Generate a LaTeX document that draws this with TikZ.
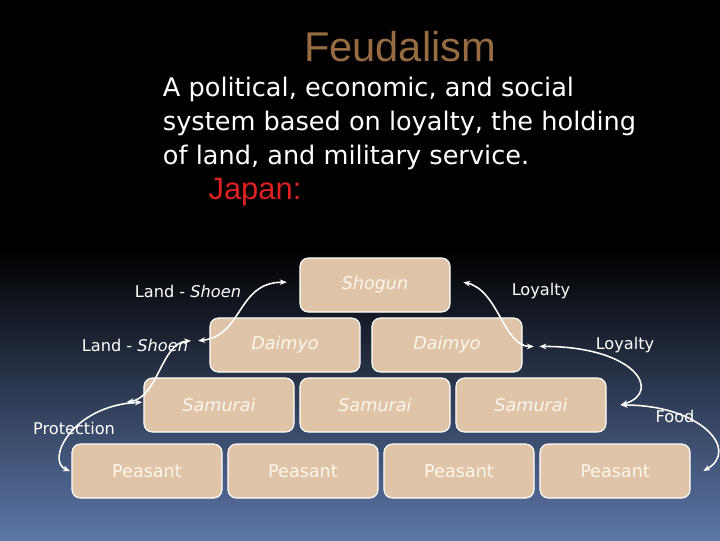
\documentclass[tikz,border=0pt]{standalone}
\usepackage{fontspec}
\setmainfont{DejaVu Sans}
\newfontfamily\arialfont{Liberation Sans}
\usetikzlibrary{arrows.meta,positioning}
\definecolor{boxtan}{RGB}{224,196,168}
\definecolor{cream}{RGB}{253,246,236}
\definecolor{feudbrown}{RGB}{152,108,66}
\definecolor{japanred}{RGB}{222,32,32}
\definecolor{bgmid}{RGB}{26,34,54}
\definecolor{bgblue}{RGB}{92,118,168}

\begin{document}
\begin{tikzpicture}[
    x=0.025cm, y=-0.025cm,
    rank/.style={draw=white, line width=0.8pt, fill=boxtan, rounded corners=6pt, minimum width=3.75cm, minimum height=1.35cm, text=cream, font=\fontsize{12.5}{14}\selectfont},
    lbl/.style={text=white, font=\fontsize{11.5}{13}\selectfont},
    dbl/.style={{Stealth[length=5pt,width=4pt]}-{Stealth[length=5pt,width=4pt]}, white, line width=1.1pt}
]
\useasboundingbox (0,0) rectangle (720,540);
\fill[black] (0,0) rectangle (720,540);
\shade[top color=black, middle color=bgmid, bottom color=bgblue] (0,250) rectangle (720,540);

\node[text=feudbrown, font=\arialfont\fontsize{29.6}{32}\selectfont] (title) at (400,47) {Feudalism};
\node[text=white, align=left, anchor=north west, font=\fontsize{18.2}{24.2}\selectfont] (defn) at (158,72) {A political, economic, and social\\system based on loyalty, the holding\\of land, and military service.};
\node[text=japanred, font=\arialfont\fontsize{22}{24}\selectfont] (japan) at (255,192) {Japan:};

\node[rank] (shogun) at (375,285) {\textit{Shogun}};
\node[rank] (daimyoL) at (285,345) {\textit{Daimyo}};
\node[rank] (daimyoR) at (447,345) {\textit{Daimyo}};
\node[rank] (samuraiA) at (219,405) {\textit{Samurai}};
\node[rank] (samuraiB) at (375,405) {\textit{Samurai}};
\node[rank] (samuraiC) at (531,405) {\textit{Samurai}};
\node[rank] (peasantA) at (147,471) {Peasant};
\node[rank] (peasantB) at (303,471) {Peasant};
\node[rank] (peasantC) at (459,471) {Peasant};
\node[rank] (peasantD) at (615,471) {Peasant};

\node[lbl] (landA) at (188,291) {Land - \textit{Shoen}};
\node[lbl] (landB) at (135,345) {Land - \textit{Shoen}};
\node[lbl] (loyalA) at (541,291) {Loyalty};
\node[lbl] (loyalB) at (625,345) {Loyalty};
\node[lbl] (protect) at (74,428) {Protection};
\node[lbl] (food) at (675,416) {Food};

\draw[dbl] ([xshift=-8pt,yshift=3pt]daimyoL.west) .. controls +(45,-5) and +(-50,0) .. ([xshift=-9pt,yshift=2pt]shogun.west);
\draw[dbl] ([xshift=-13pt,yshift=3pt]daimyoL.west) .. controls +(-30,2) and +(32,-5) .. ([xshift=-12pt,yshift=2pt]samuraiA.west);
\draw[dbl] ([xshift=-1pt,yshift=2pt]samuraiA.west) .. controls +(-70,3) and +(-25,-10) .. ([xshift=-1pt]peasantA.west);
\draw[dbl] ([xshift=9pt,yshift=2pt]shogun.east) .. controls +(35,8) and +(-30,0) .. ([xshift=8pt,yshift=-1pt]daimyoR.east);
\draw[dbl] ([xshift=12pt,yshift=-1pt]daimyoR.east) .. controls +(96,0) and +(42,-13) .. ([xshift=10pt]samuraiC.east);
\draw[dbl] ([xshift=10pt]samuraiC.east) .. controls +(80,0) and +(37,-21) .. ([xshift=9pt]peasantD.east);
\end{tikzpicture}
\end{document}
